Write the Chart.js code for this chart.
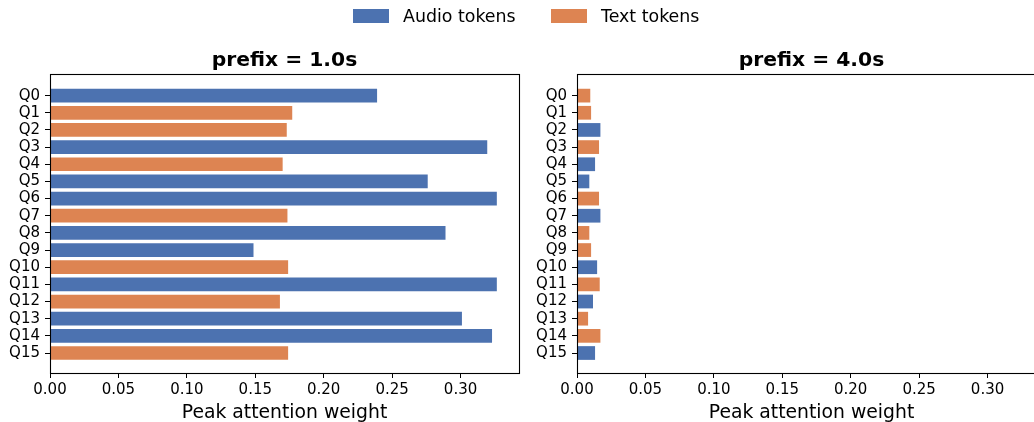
<!DOCTYPE html>
<html>
<head>
<meta charset="utf-8">
<script src="https://cdn.jsdelivr.net/npm/chart.js@4.4.1/dist/chart.umd.min.js"></script>
<style>
  html, body { margin: 0; padding: 0; width: 1034px; height: 422px; overflow: hidden; background: #fff; }
  #wrap { position: relative; width: 1034px; height: 422px; overflow: hidden; }
  canvas { position: absolute; top: 0; }
  #c1 { left: 0; }
  #c2 { left: 530px; }
  #legend { position: absolute; top: 0; left: 0; width: 1034px; height: 34px;
            font-family: 'DejaVu Sans', sans-serif; font-size: 17.4px; color: #000; }
  .patch { position: absolute; top: 9px; width: 36px; height: 14px; }
  .lbl { position: absolute; top: 6px; line-height: 20px; white-space: nowrap; }
</style>
</head>
<body>
<div id="wrap">
  <canvas id="c1" width="530" height="422"></canvas>
  <canvas id="c2" width="530" height="422"></canvas>
  <div id="legend">
    <div class="patch" style="left:353px;background:#4C72B0"></div>
    <div class="lbl" style="left:403px">Audio tokens</div>
    <div class="patch" style="left:551px;background:#DD8452"></div>
    <div class="lbl" style="left:601px">Text tokens</div>
  </div>
</div>
<script>
// Query positions shown on both panels
const queries = ['Q0','Q1','Q2','Q3','Q4','Q5','Q6','Q7','Q8','Q9','Q10','Q11','Q12','Q13','Q14','Q15'];

// Token type that receives the peak attention for each query (A = audio, T = text)
const typesShort = ['A','T','T','A','T','A','A','T','A','A','T','A','T','A','A','T'];
const typesLong  = ['T','T','A','T','A','A','T','A','T','T','A','T','A','T','T','A'];

// Peak attention weight per query
const peakShort = [0.239, 0.177, 0.173, 0.3195, 0.170, 0.276, 0.3265, 0.1735, 0.289, 0.1487,
                   0.174, 0.3265, 0.168, 0.301, 0.323, 0.174];
const peakLong  = [0.0097, 0.0103, 0.0171, 0.0161, 0.0132, 0.0090, 0.0161, 0.0171, 0.0090, 0.0103,
                   0.0147, 0.0166, 0.0117, 0.0081, 0.0171, 0.0132];

// Axis tick values
const xTicks = [0, 0.05, 0.10, 0.15, 0.20, 0.25, 0.30];

const COLORS = { A: '#4C72B0', T: '#DD8452' };
const FONT = "'DejaVu Sans', sans-serif";
const X_MAX = 0.3427;

const framePlugin = {
  id: 'frame',
  afterDraw(chart) {
    const { ctx, chartArea: a } = chart;
    ctx.save();
    ctx.strokeStyle = '#000';
    ctx.lineWidth = 1.1;
    ctx.strokeRect(Math.round(a.left) + 0.5, Math.round(a.top) + 0.5,
                   Math.round(a.right - a.left), Math.round(a.bottom - a.top));
    ctx.restore();
  }
};

const panelTitle = {
  id: 'panelTitle',
  afterDraw(chart, args, opts) {
    const { ctx, chartArea: a } = chart;
    ctx.save();
    ctx.font = `bold 20.3px ${FONT}`;
    ctx.fillStyle = '#000';
    ctx.textAlign = 'center';
    ctx.textBaseline = 'alphabetic';
    ctx.fillText(opts.text, (a.left + a.right) / 2, a.top - 8);
    ctx.restore();
  }
};

function makePanel(canvasId, title, values, types, yAxisWidth, padRight) {
  const data = values.map((v, i) => ({ x: v, y: i }));
  return new Chart(document.getElementById(canvasId), {
    type: 'bar',
    data: {
      datasets: [{
        data: data,
        backgroundColor: types.map(t => COLORS[t]),
        borderWidth: 0,
        barPercentage: 0.8,
        categoryPercentage: 1.0
      }]
    },
    options: {
      indexAxis: 'y',
      responsive: false,
      animation: false,
      devicePixelRatio: 1,
      layout: { padding: { top: 74, right: padRight, bottom: 0, left: 0 } },
      plugins: {
        legend: { display: false },
        tooltip: { enabled: false },
        panelTitle: { text: title }
      },
      scales: {
        x: {
          type: 'linear',
          position: 'bottom',
          min: 0,
          max: X_MAX,
          afterBuildTicks: s => { s.ticks = xTicks.map(v => ({ value: v })); },
          afterFit: s => { s.height = 49; },
          grid: { display: true, drawOnChartArea: false, tickLength: 5, color: '#000', lineWidth: 1 },
          border: { display: false },
          ticks: {
            color: '#000',
            padding: 3,
            font: { family: FONT, size: 15 },
            callback: v => Number(v).toFixed(2)
          },
          title: {
            display: true,
            text: 'Peak attention weight',
            color: '#000',
            font: { family: FONT, size: 18.8 },
            padding: { top: 0, bottom: -2 }
          }
        },
        y: {
          type: 'linear',
          reverse: true,
          offset: false,
          min: -1.26,
          max: queries.length - 1 + 1.165,
          afterBuildTicks: s => { s.ticks = queries.map((_, i) => ({ value: i })); },
          afterFit: s => { s.width = yAxisWidth; },
          grid: { display: true, offset: false, drawOnChartArea: false, tickLength: 5, color: '#000', lineWidth: 1 },
          border: { display: false },
          ticks: {
            color: '#000',
            padding: 5,
            autoSkip: false,
            font: { family: FONT, size: 15 },
            callback: v => queries[v]
          }
        }
      }
    },
    plugins: [framePlugin, panelTitle]
  });
}

makePanel('c1', 'prefix = 1.0s', peakShort, typesShort, 50, 11);
makePanel('c2', 'prefix = 4.0s', peakLong, typesLong, 47, 14);
</script>
</body>
</html>
